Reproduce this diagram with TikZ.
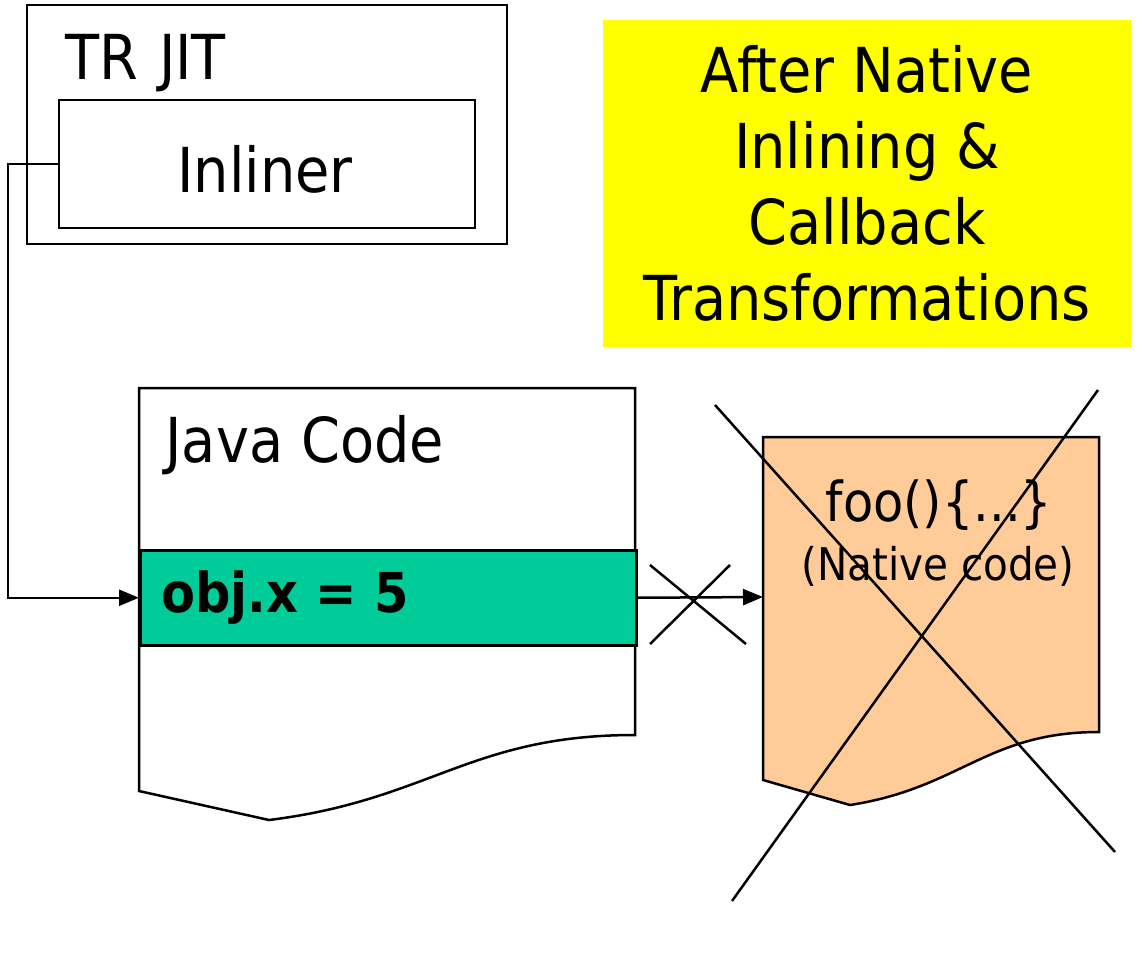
\documentclass[tikz,border=0pt]{standalone}
\usepackage{fontspec}
\setmainfont{DejaVu Sans}[FakeStretch=0.9]
\usetikzlibrary{arrows.meta}

\definecolor{fieldgreen}{HTML}{00CC99}
\definecolor{noteyellow}{HTML}{FFFF00}
\definecolor{nativeorange}{HTML}{FFCC99}

\newcommand{\bigtext}{\fontsize{62}{76}\selectfont}
\newcommand{\midtext}{\fontsize{55}{66}\selectfont}
\newcommand{\smalltext}{\fontsize{45}{54}\selectfont}

\begin{document}
\begin{tikzpicture}[x=1pt, y=-1pt,
    box/.style={draw, line width=2.5pt, inner sep=0pt},
    wire/.style={line width=2.5pt, -{Triangle[length=20pt, width=16pt]}},
    strike/.style={line width=2.5pt}]
        \useasboundingbox (0,0) rectangle (1144,966);

        % compiler side
        \node[box, minimum width=480pt, minimum height=239pt] (jit) at (267,124.5) {};
        \node[anchor=base west, font=\bigtext] (jitlbl) at (62,80) {TR\,\,JIT};
        \node[box, minimum width=416pt, minimum height=128pt] (inliner) at (267,164) {};
        \node[anchor=base, font=\bigtext] (inlinerlbl) at (265,192) {Inliner};

        % note
        \node[fill=noteyellow, minimum width=528pt, minimum height=327pt, align=center,
            font=\bigtext, inner sep=0pt] (note) at (867,183.5)
            {After Native\\Inlining \&\\Callback\\Transformations};

        % java code page
        \draw[line width=2.5pt, fill=white] (139,388) -- (635,388) -- (635,735)
            .. controls (470,735) and (430,800) .. (269,820) -- (139,791) -- cycle;
        \node[anchor=base west, font=\bigtext] (javalbl) at (162,462) {Java Code};
        \node[box, fill=fieldgreen, minimum width=496pt, minimum height=95pt,
            anchor=north west] (field) at (139,549) {};
        \node[anchor=base west, font=\midtext\bfseries] (fieldlbl) at (158,612) {obj.x = 5};

        % native code page
        \draw[line width=2.5pt, fill=nativeorange] (763,437) -- (1099,437) -- (1099,732)
            .. controls (987,732) and (960,788) .. (850,805) -- (763,780) -- cycle;
        \node[anchor=base, font=\midtext] (foolbl) at (939,521) {foo()\{...\}};
        \node[anchor=base, font=\smalltext] (nativelbl) at (938,580) {(Native code)};
        \coordinate (native) at (763,597);

        % connectors
        \draw[wire] (inliner.west) -- ++(-50,0) |- (field.west);
        \draw[wire] (field.east) -- (native);

        % crossed out
        \draw[strike] (650,565) -- (746,644);
        \draw[strike] (730,565) -- (650,644);
        \draw[strike] (715,405) -- (1115,852);
        \draw[strike] (1098,390) -- (732,901);
\end{tikzpicture}
\end{document}
